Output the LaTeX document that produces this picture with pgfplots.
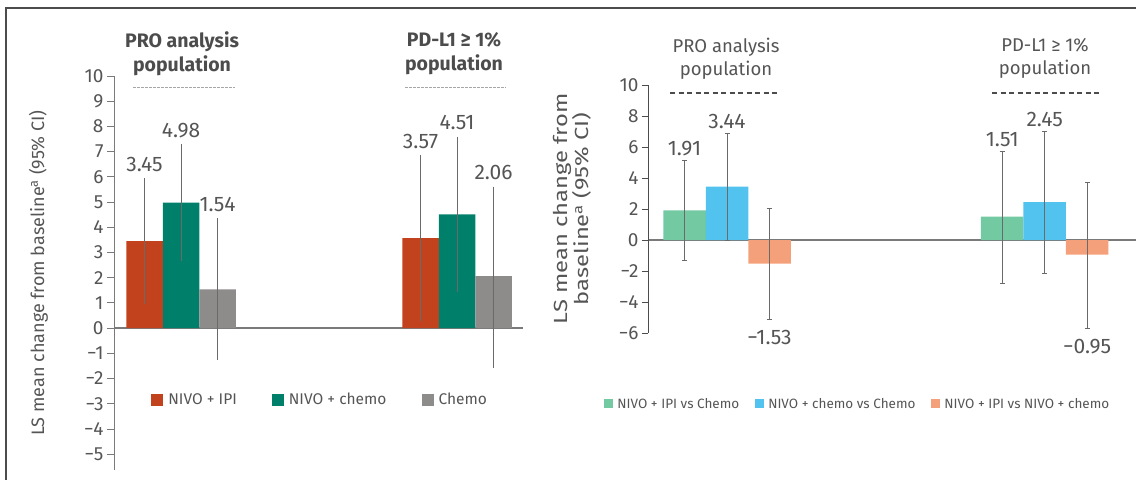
\documentclass[border=0pt]{standalone}
\usepackage{fontspec}
\setmainfont{Fira Sans}
\newfontfamily\widefont[FakeStretch=1.25]{Fira Sans}
\usepackage{pgfplots}
\usepackage{pgfplotstable}
\pgfplotsset{compat=1.18}

\definecolor{cRed}{HTML}{C3421E}
\definecolor{cGreen}{HTML}{00806A}
\definecolor{cGray}{HTML}{8E8B8B}
\definecolor{cMint}{HTML}{72C9A2}
\definecolor{cBlue}{HTML}{52C3EE}
\definecolor{cOrange}{HTML}{F4A07A}
\definecolor{txt}{HTML}{555555}
\definecolor{axc}{HTML}{7A7A7A}
\definecolor{errc}{HTML}{6A6A6A}

% Left panel: LS mean change (95% CI) per arm
\pgfplotstableread{
x y ep em lab
-0.1323 3.45 2.50 2.50 3.45
0.8677 3.57 3.30 3.30 3.57
}\lred
\pgfplotstableread{
x y ep em lab
0 4.98 2.32 2.32 4.98
1 4.51 3.08 3.08 4.51
}\lgreen
\pgfplotstableread{
x y ep em lab
0.1323 1.54 2.81 2.80 1.54
1.1323 2.06 3.55 3.66 2.06
}\lgray

% Right panel: differences
\pgfplotstableread{
x y ep em lab
-0.1338 1.91 3.19 3.26 1.91
0.8662 1.51 4.23 4.31 1.51
}\rmint
\pgfplotstableread{
x y ep em lab
0 3.44 3.44 3.44 3.44
1 2.45 4.54 4.60 2.45
}\rblue
\pgfplotstableread{
x y ep em lab
0.1338 -1.53 3.57 3.63 −1.53
1.1338 -0.95 4.65 4.75 −0.95
}\rorange

\begin{document}
\begin{tikzpicture}[x=1pt,y=1pt]
\useasboundingbox (0,0) rectangle (1136,480);
\draw[line width=1.2pt, black!70] (6,0) -- (6,472) -- (1136,472);

\pgfplotsset{
  lblstyle/.style={draw=none, mark=none, forget plot, nodes near coords,
    point meta=explicit symbolic},
}

% ---------------- LEFT ----------------
\begin{axis}[
  at={(114pt,10pt)}, anchor=south west, scale only axis,
  width=409pt, height=394pt,
  xmin=-0.243, xmax=1.239, ymin=-5.63, ymax=10,
  axis y line=left, axis x line=middle,
  axis line style={-},
  x axis line style={line width=1.5pt, color=axc},
  y axis line style={line width=0.8pt, color=axc},
  xtick=\empty,
  ytick={-5,-4,-3,-2,-1,0,1,2,3,4,5,6,7,8,9,10},
  yticklabels={−5,−4,−3,−2,−1,0,1,2,3,4,5,6,7,8,9,10},
  tick align=outside, major tick length=7pt,
  ytick style={color=axc, line width=0.8pt},
  tick label style={font=\fontsize{19}{19}\selectfont, text=txt},
  every y tick label/.append style={font=\fontsize{19}{19}\selectfont, text=txt},
  ylabel={LS mean change from baseline\textsuperscript{a} (95\% CI)},
  ylabel style={font=\fontsize{18}{18}\selectfont, text=txt,
    at={(rel axis cs:-0.185,0.5)}, anchor=center},
  bar width=0.1323,
  clip=false,
  legend image code/.code={\fill[#1] (0pt,-6pt) rectangle (12pt,6pt); \path (15pt,0pt);},
  legend columns=3,
  legend style={at={(rel axis cs:0.504,0.178)}, anchor=center, draw=none, fill=none,
    font=\fontsize{15.5}{15.5}\selectfont, text=txt,
    /tikz/every even column/.append style={column sep=33pt}},
  every node near coord/.append style={font=\fontsize{21}{21}\selectfont, text=txt, anchor=south, yshift=3pt},
  error bars/error bar style={draw=errc, line width=1pt},
]
\addplot[ybar, bar shift=0pt, fill=cRed, draw=none,
  error bars/.cd, y dir=both, y explicit, error mark=none]
  table[x=x, y=y, y error plus=ep, y error minus=em] {\lred};
\addlegendentry{NIVO + IPI}
\addplot[ybar, bar shift=0pt, fill=cGreen, draw=none,
  error bars/.cd, y dir=both, y explicit, error mark=none]
  table[x=x, y=y, y error plus=ep, y error minus=em] {\lgreen};
\addlegendentry{NIVO + chemo}
\addplot[ybar, bar shift=0pt, fill=cGray, draw=none,
  error bars/.cd, y dir=both, y explicit, error mark=none]
  table[x=x, y=y, y error plus=ep, y error minus=em] {\lgray};
\addlegendentry{Chemo}
\addplot[lblstyle] table[x=x, y expr=\thisrow{y}+\thisrow{ep}, meta=lab] {\lred};
\addplot[lblstyle] table[x=x, y expr=\thisrow{y}+\thisrow{ep}, meta=lab] {\lgreen};
\addplot[lblstyle] table[x=x, y expr=\thisrow{y}+\thisrow{ep}, meta=lab] {\lgray};
\end{axis}

% ---------------- RIGHT ----------------
\begin{axis}[
  at={(648pt,147pt)}, anchor=south west, scale only axis,
  width=488pt, height=248pt,
  xmin=-0.2487, xmax=1.2874, ymin=-6, ymax=10,
  axis y line=left, axis x line=middle,
  axis line style={-},
  x axis line style={line width=1.5pt, color=axc},
  y axis line style={line width=1pt, color=black!70},
  xtick=\empty,
  ytick={-6,-4,-2,0,2,4,6,8,10},
  yticklabels={−6,−4,−2,0,2,4,6,8,10},
  tick align=outside, major tick length=6pt,
  ytick style={color=black!70, line width=1pt},
  tick label style={font=\fontsize{19}{19}\selectfont, text=txt},
  every y tick label/.append style={font=\fontsize{19}{19}\selectfont, text=txt},
  ylabel={LS mean change from\\baseline\textsuperscript{a} (95\% CI)},
  ylabel style={font=\widefont\fontsize{19}{18}\selectfont, text=txt, align=center,
    at={(rel axis cs:-0.155,0.5)}, anchor=center},
  bar width=0.1338,
  clip=false,
  legend image code/.code={\fill[#1] (0pt,-4.5pt) rectangle (9pt,4.5pt); \path (11pt,0pt);},
  legend columns=3,
  legend style={at={(rel axis cs:0.430,-0.286)}, anchor=center, draw=none, fill=none,
    font=\fontsize{13.5}{13.5}\selectfont, text=txt,
    /tikz/every even column/.append style={column sep=14pt}},
  every node near coord/.append style={font=\fontsize{21}{21}\selectfont, text=txt, anchor=south, yshift=1pt},
  error bars/error bar style={draw=errc, line width=1pt},
  error bars/error mark options={draw=errc, line width=1pt, mark size=2.5pt, rotate=90},
]
\addplot[ybar, bar shift=0pt, fill=cMint, draw=none,
  error bars/.cd, y dir=both, y explicit]
  table[x=x, y=y, y error plus=ep, y error minus=em] {\rmint};
\addlegendentry{NIVO + IPI vs Chemo}
\addplot[ybar, bar shift=0pt, fill=cBlue, draw=none,
  error bars/.cd, y dir=both, y explicit]
  table[x=x, y=y, y error plus=ep, y error minus=em] {\rblue};
\addlegendentry{NIVO + chemo vs Chemo}
\addplot[ybar, bar shift=0pt, fill=cOrange, draw=none,
  error bars/.cd, y dir=both, y explicit]
  table[x=x, y=y, y error plus=ep, y error minus=em] {\rorange};
\addlegendentry{NIVO + IPI vs NIVO + chemo}
\addplot[lblstyle] table[x=x, y expr=\thisrow{y}+\thisrow{ep}, meta=lab] {\rmint};
\addplot[lblstyle] table[x=x, y expr=\thisrow{y}+\thisrow{ep}, meta=lab] {\rblue};
\addplot[lblstyle, every node near coord/.append style={anchor=north, yshift=-8pt}]
  table[x=x, y expr=\thisrow{y}-\thisrow{em}, meta=lab] {\rorange};
\end{axis}

% ---------------- Group headers ----------------
\node[align=center, text=txt!90!black, font=\bfseries\fontsize{19.5}{24}\selectfont] at (182,426) {PRO analysis\\population};
\node[align=center, text=txt!90!black, font=\bfseries\fontsize{19.5}{24}\selectfont] at (454,426) {PD-L1 ≥ 1\%\\population};
\draw[gray!70, line width=1pt, dash pattern=on 2.5pt off 1.5pt] (133,392) -- (235,392);
\draw[gray!70, line width=1pt, dash pattern=on 2.5pt off 1.5pt] (405,392) -- (506,392);

\node[align=center, text=txt, font=\fontsize{18.5}{23}\selectfont] at (726,421.5) {PRO analysis\\population};
\node[align=center, text=txt, font=\fontsize{18.5}{23}\selectfont] at (1045,421.5) {PD-L1 ≥ 1\%\\population};
\draw[black!70, line width=1.2pt, dash pattern=on 5pt off 3.5pt] (670,387) -- (780,387);
\draw[black!70, line width=1.2pt, dash pattern=on 5pt off 3.5pt] (992,387) -- (1100,387);
\end{tikzpicture}
\end{document}
